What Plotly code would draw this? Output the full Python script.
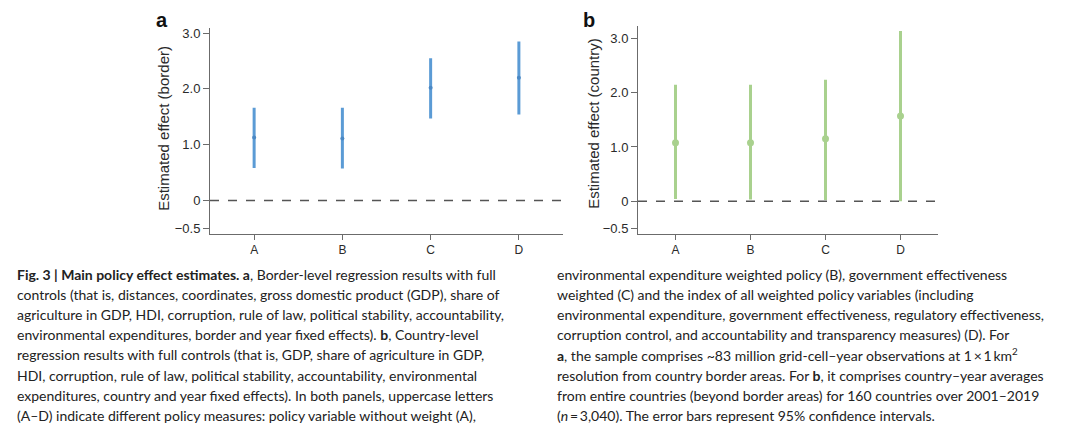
import plotly.graph_objects as go

categories = ["A", "B", "C", "D"]

border_est = [1.13, 1.11, 2.02, 2.20]
border_low = [0.58, 0.57, 1.47, 1.54]
border_high = [1.66, 1.66, 2.55, 2.85]

country_est = [1.08, 1.08, 1.15, 1.57]
country_low = [0.04, 0.03, 0.02, 0.00]
country_high = [2.15, 2.15, 2.24, 3.14]

ytick_vals = [-0.5, 0, 1, 2, 3]
ytick_text = ["\u22120.5", "0", "1.0", "2.0", "3.0"]

caption_left = [
    "<b>Fig. 3 | Main policy effect estimates. a</b>, Border-level regression results with full",
    "controls (that is, distances, coordinates, gross domestic product (GDP), share of",
    "agriculture in GDP, HDI, corruption, rule of law, political stability, accountability,",
    "environmental expenditures, border and year fixed effects). <b>b</b>, Country-level",
    "regression results with full controls (that is, GDP, share of agriculture in GDP,",
    "HDI, corruption, rule of law, political stability, accountability, environmental",
    "expenditures, country and year fixed effects). In both panels, uppercase letters",
    "(A\u2013D) indicate different policy measures: policy variable without weight (A),",
]
caption_right = [
    "environmental expenditure weighted policy (B), government effectiveness",
    "weighted (C) and the index of all weighted policy variables (including",
    "environmental expenditure, government effectiveness, regulatory effectiveness,",
    "corruption control, and accountability and transparency measures) (D). For",
    "<b>a</b>, the sample comprises ~83 million grid-cell\u2013year observations at 1\u2009\u00d7\u20091\u2009km<sup>2</sup>",
    "resolution from country border areas. For <b>b</b>, it comprises country\u2013year averages",
    "from entire countries (beyond border areas) for 160 countries over 2001\u20132019",
    "(<i>n</i>\u2009=\u20093,040). The error bars represent 95% confidence intervals.",
]

W, H = 1080, 435
def px(x):
    return x / W
def py(y):
    return 1 - y / H

BLUE = "#5b9bd5"
GREEN = "#a9d18e"
AX = "#6b6b6b"

fig = go.Figure()

fig.add_trace(go.Scatter(
    x=categories, y=border_est, mode="markers",
    marker=dict(color="#4a88c4", size=4),
    error_y=dict(type="data", symmetric=False,
                 array=[h - e for h, e in zip(border_high, border_est)],
                 arrayminus=[e - l for e, l in zip(border_est, border_low)],
                 color=BLUE, thickness=3, width=0),
    xaxis="x", yaxis="y", showlegend=False, hoverinfo="skip"))

fig.add_trace(go.Scatter(
    x=categories, y=country_est, mode="markers",
    marker=dict(color=GREEN, size=7),
    error_y=dict(type="data", symmetric=False,
                 array=[h - e for h, e in zip(country_high, country_est)],
                 arrayminus=[e - l for e, l in zip(country_est, country_low)],
                 color=GREEN, thickness=3, width=0),
    xaxis="x2", yaxis="y2", showlegend=False, hoverinfo="skip"))

tickfont_y = dict(family="Liberation Sans, Arial, sans-serif", size=13, color="#2a2a2a")
tickfont_x = dict(family="Liberation Sans, Arial, sans-serif", size=12, color="#2a2a2a")

common_x = dict(showline=True, linecolor=AX, linewidth=1, ticks="outside", ticklen=5,
                tickcolor=AX, showgrid=False, zeroline=False, tickfont=tickfont_x,
                range=[-0.5, 3.5], fixedrange=True)
common_y = dict(showline=True, linecolor=AX, linewidth=1, ticks="outside", ticklen=6,
                tickcolor=AX, showgrid=False, zeroline=False, tickfont=tickfont_y,
                tickvals=ytick_vals, ticktext=ytick_text, fixedrange=True)

fig.update_layout(
    width=W, height=H,
    margin=dict(l=0, r=0, t=0, b=0),
    paper_bgcolor="white", plot_bgcolor="white",
    xaxis=dict(domain=[px(210), px(563)], anchor="y", **common_x),
    yaxis=dict(domain=[py(234), py(26)], anchor="x", range=[-0.6, 3.096], **common_y),
    xaxis2=dict(domain=[px(638), px(938)], anchor="y2", **common_x),
    yaxis2=dict(domain=[py(234), py(24)], anchor="x2", range=[-0.603, 3.236], **common_y),
)

for xr, yr in (("x", "y"), ("x2", "y2")):
    fig.add_shape(type="line", xref=f"{xr} domain", yref=yr, x0=0, x1=1, y0=0, y1=0,
                  line=dict(color="#555555", width=1.5, dash="dash"), layer="below")

annotations = []
annotations.append(dict(x=px(154), y=py(18), xref="paper", yref="paper", text="<b>a</b>",
                        showarrow=False, xanchor="left", yanchor="middle",
                        font=dict(family="Liberation Sans, Arial, sans-serif", size=20, color="#111")))
annotations.append(dict(x=px(581), y=py(18), xref="paper", yref="paper", text="<b>b</b>",
                        showarrow=False, xanchor="left", yanchor="middle",
                        font=dict(family="Liberation Sans, Arial, sans-serif", size=20, color="#111")))
titlefont = dict(family="Liberation Sans, Arial, sans-serif", size=15, color="#2a2a2a")
annotations.append(dict(x=px(164), y=py(128), xref="paper", yref="paper",
                        text="Estimated effect (border)", textangle=-90, showarrow=False,
                        xanchor="center", yanchor="middle", font=titlefont))
annotations.append(dict(x=px(594), y=py(123), xref="paper", yref="paper",
                        text="Estimated effect (country)", textangle=-90, showarrow=False,
                        xanchor="center", yanchor="middle", font=titlefont))

capfont = dict(family="Lato, sans-serif", size=14, color="#222222")
for i, line in enumerate(caption_left):
    annotations.append(dict(x=px(15), y=py(275 + i * 20.3), xref="paper", yref="paper",
                            text=line, showarrow=False, xanchor="left", yanchor="middle",
                            font=capfont))
for i, line in enumerate(caption_right):
    annotations.append(dict(x=px(555), y=py(275 + i * 20.3), xref="paper", yref="paper",
                            text=line, showarrow=False, xanchor="left", yanchor="middle",
                            font=capfont))

fig.update_layout(annotations=annotations)

fig.write_html("out.html", config={"displayModeBar": False},
               post_script="document.body.style.margin='0';document.body.style.padding='0';")
